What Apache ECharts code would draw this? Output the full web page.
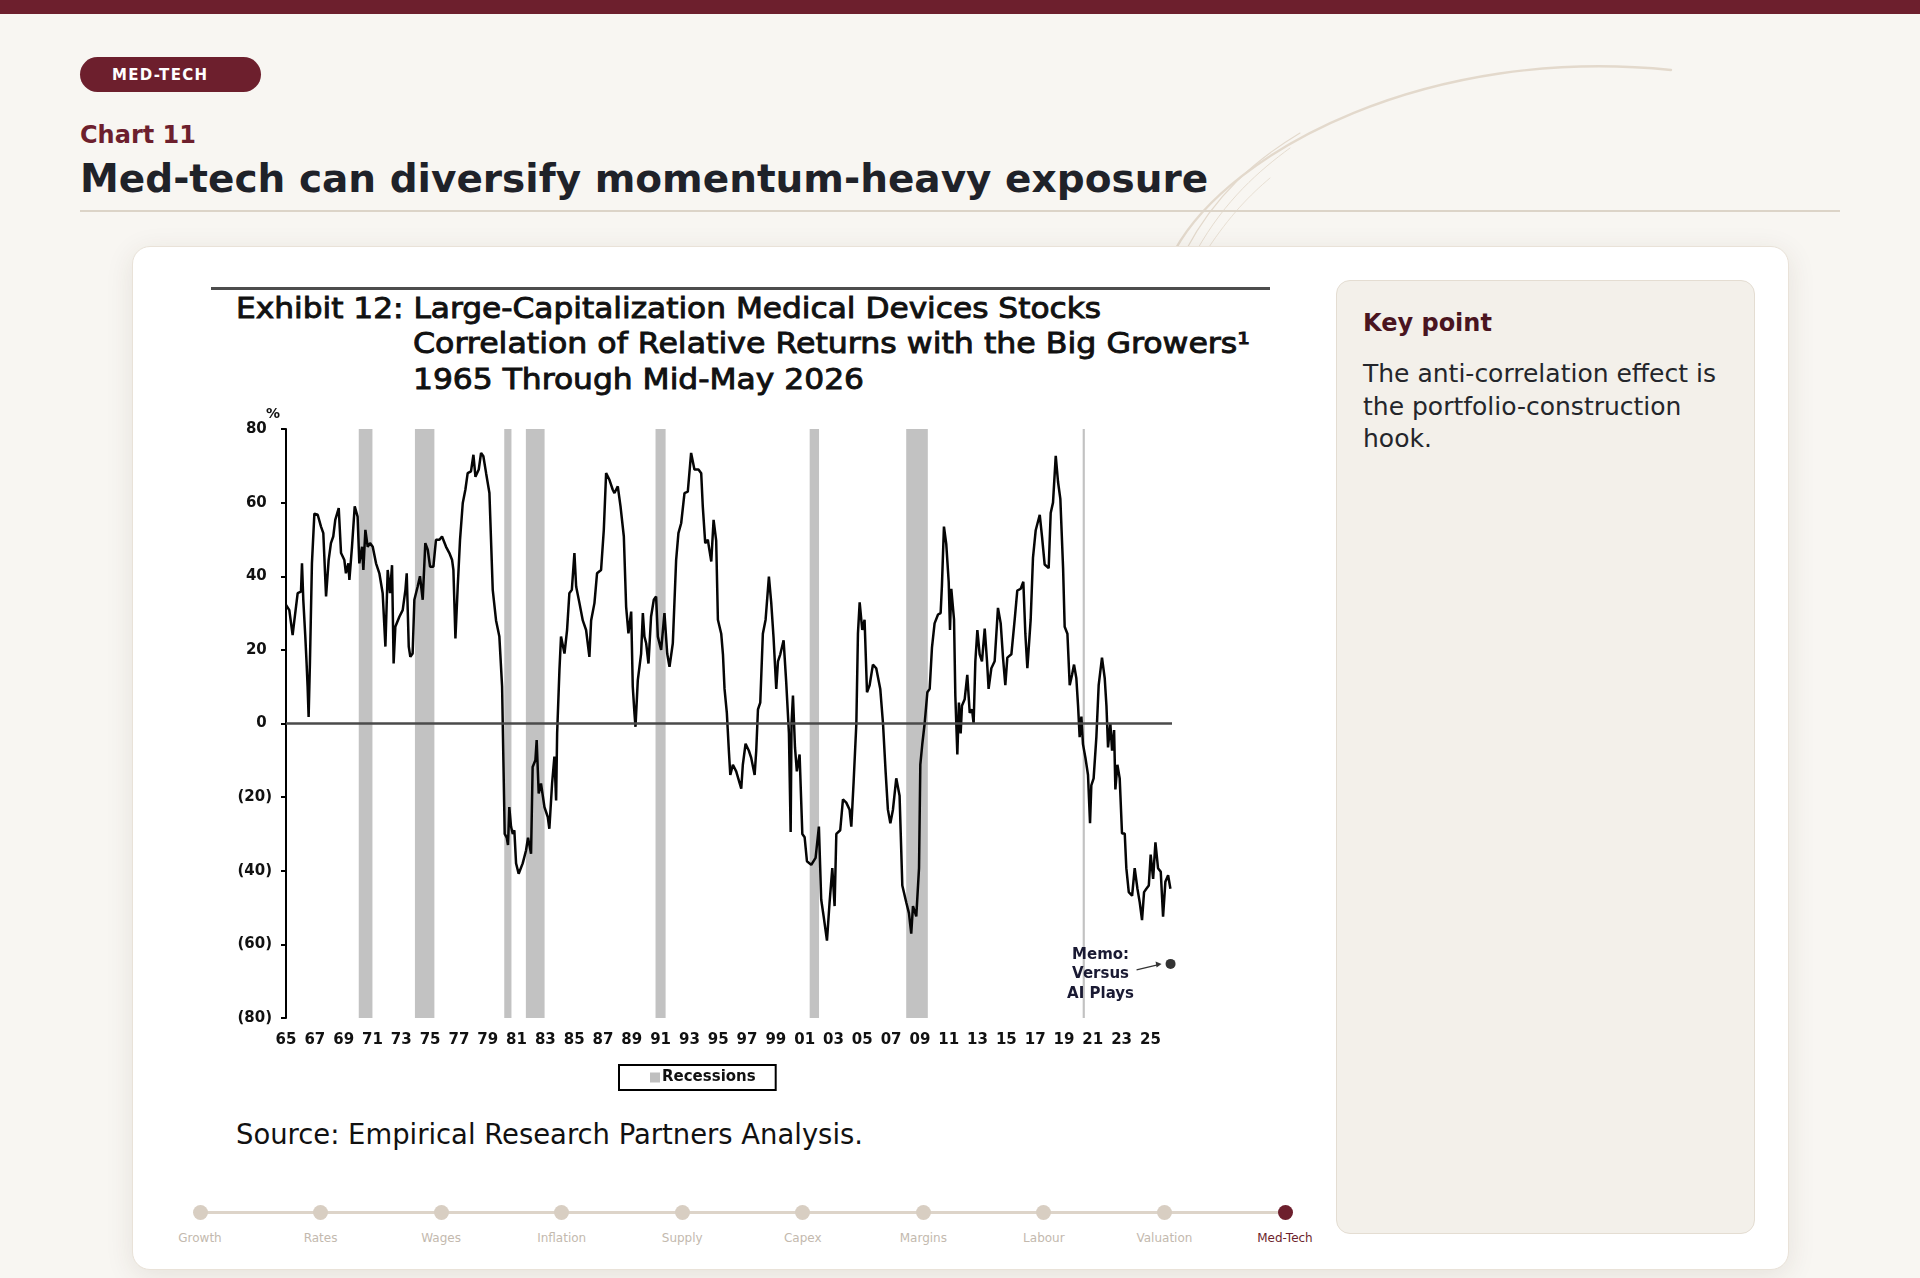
<!DOCTYPE html>
<html>
<head>
<meta charset="utf-8">
<script src="https://cdn.jsdelivr.net/npm/echarts@6/dist/echarts.min.js"></script>
<style>
  html, body { margin:0; padding:0; }
  body { width:1920px; height:1278px; background:#f8f6f2; position:relative; overflow:hidden; font-family:"DejaVu Sans", sans-serif; }
  .abs { position:absolute; }
  #topbar { left:0; top:0; width:1920px; height:14px; background:#6d1f2d; }
  #pill { left:80px; top:57px; width:181px; height:35px; border-radius:18px; background:#6d1f2d; color:#fff; font-weight:bold; font-size:15px; letter-spacing:1.3px; line-height:36px; box-sizing:border-box; padding-left:32px; }
  #chartno { left:80px; top:123px; font-size:24px; line-height:24px; font-weight:bold; color:#6d1f2d; white-space:nowrap; }
  #title { left:80px; top:159px; font-size:39px; line-height:39px; font-weight:bold; color:#1f2229; white-space:nowrap; }
  #divider { left:80px; top:210px; width:1760px; height:2px; background:#dcd4c8; }
  #card { left:132px; top:246px; width:1657px; height:1024px; background:#fff; border-radius:18px; border:1px solid #e9e2d8; box-sizing:border-box; box-shadow:0 6px 28px rgba(70,50,30,0.10); }
  #panel { left:1336px; top:280px; width:419px; height:954px; background:#f3f0ea; border:1px solid #e4ddd2; border-radius:14px; box-sizing:border-box; }
  #kp { left:1363px; top:307px; font-size:24px; line-height:32px; font-weight:bold; color:#4a151f; white-space:nowrap; }
  #kpbody { left:1363px; top:358px; width:372px; font-size:25px; line-height:32.7px; color:#24262b; }
  #exrule { left:211px; top:287px; width:1059px; height:3px; background:#4d4d4d; }
  .ex { font-size:28px; line-height:28px; color:#111; white-space:nowrap; transform-origin:0 50%; -webkit-text-stroke:0.9px #111; }
  #src { font-size:28px; line-height:28px; color:#111; white-space:nowrap; transform-origin:0 50%; left:236px; top:1121px; }
  #navline { left:200px; top:1211px; width:1085px; height:3px; background:#ddd4c9; }
  .dot { width:15px; height:15px; border-radius:50%; background:#d8cec2; top:1205px; }
  .dot.on { background:#6d1f2d; }
  .nl { top:1231px; font-size:12px; line-height:14px; color:#c3b9ae; white-space:nowrap; transform:translateX(-50%); }
  .nl.on { color:#6d1f2d; }
  #chart { left:0; top:0; width:1920px; height:1278px; z-index:5; }
</style>
</head>
<body>
<div id="topbar" class="abs"></div>
<svg class="abs" style="left:0;top:0;" width="1920" height="260">
  <g fill="none" stroke="#e3d9cc" stroke-linecap="round">
    <path d="M1175 250 C1230 150 1430 45 1671 70" stroke-width="2.4"/>
    <path d="M1186 250 C1215 195 1255 160 1300 133" stroke-width="1.1"/>
    <path d="M1197 250 C1225 200 1260 170 1290 148" stroke-width="0.9"/>
    <path d="M1207 250 C1230 215 1250 195 1270 178" stroke-width="0.8"/>
  </g>
</svg>
<div id="pill" class="abs">MED-TECH</div>
<div id="chartno" class="abs">Chart 11</div>
<div id="title" class="abs">Med-tech can diversify momentum-heavy exposure</div>
<div id="divider" class="abs"></div>
<div id="card" class="abs"></div>
<div id="panel" class="abs"></div>
<div id="kp" class="abs">Key point</div>
<div id="kpbody" class="abs">The anti-correlation effect is the portfolio-construction hook.</div>
<div id="exrule" class="abs"></div>
<div id="ex1" class="abs ex" style="left:236px;top:295px;" data-w="865">Exhibit 12: Large-Capitalization Medical Devices Stocks</div>
<div id="ex2" class="abs ex" style="left:413px;top:330px;" data-w="837">Correlation of Relative Returns with the Big Growers¹</div>
<div id="ex3" class="abs ex" style="left:413px;top:366px;" data-w="451">1965 Through Mid-May 2026</div>
<div id="src" class="abs" data-w="627">Source: Empirical Research Partners Analysis.</div>
<div id="navline" class="abs"></div>
<div id="nav"></div>
<div id="chart" class="abs"></div>
<script>
// ---- data: [decimal year, correlation %] ----
const seg1965_79 = [
[1965.00,32.2],[1965.23,30.8],[1965.46,24.0],[1965.58,28.0],[1965.81,35.4],[1966.04,35.8],[1966.11,43.5],[1966.20,33.6],[1966.34,23.6],[1966.43,16.3],[1966.50,10.0],[1966.57,1.8],[1966.66,16.3],[1966.80,43.5],[1966.97,57.0],[1967.20,56.7],[1967.43,53.5],[1967.59,51.7],[1967.78,34.5],[1967.96,44.4],[1968.12,49.0],[1968.28,50.8],[1968.42,55.3],[1968.66,58.5],[1968.82,46.3],[1969.05,44.4],[1969.16,40.8],[1969.33,43.5],[1969.40,39.0],[1969.58,48.0],[1969.77,59.0],[1969.97,56.2],[1970.09,43.5],[1970.28,48.0],[1970.37,41.7],[1970.51,52.6],[1970.67,48.0],[1970.83,49.0],[1971.02,48.0],[1971.25,43.5],[1971.48,40.8],[1971.71,35.4],[1971.90,20.9],[1972.06,41.7],[1972.22,35.4],[1972.36,43.0],[1972.47,16.3],[1972.59,26.3],[1972.87,29.0],[1973.10,30.8],[1973.29,36.3],[1973.38,40.8],[1973.52,20.9],[1973.63,18.1],[1973.79,19.0],[1973.91,33.6],[1974.14,37.2],[1974.30,40.0],[1974.49,33.6],[1974.67,49.0],[1974.84,47.2],[1975.00,42.6],[1975.23,42.6],[1975.41,49.9],[1975.65,49.9],[1975.83,50.8],[1976.11,48.0],[1976.34,46.3],[1976.53,44.4],[1976.62,41.7],[1976.76,23.1],[1976.92,37.2],[1977.08,49.9],[1977.27,59.9],[1977.45,63.5],[1977.61,68.0],[1977.84,68.5],[1978.01,73.0],[1978.15,67.0],[1978.38,69.0],[1978.54,73.5],[1978.70,72.6],[1978.89,68.0],[1979.12,62.6],[1979.35,36.3],[1979.58,28.0],[1979.81,23.6],[1980.00,10.0]
];
const seg1980_94 = [
[1980.09,-10.0],[1980.18,-30.0],[1980.32,-31.0],[1980.41,-33.0],[1980.50,-22.7],[1980.62,-28.0],[1980.74,-30.0],[1980.85,-29.0],[1980.97,-38.0],[1981.15,-40.8],[1981.43,-38.0],[1981.66,-34.5],[1981.80,-31.0],[1982.01,-35.4],[1982.12,-11.8],[1982.31,-10.0],[1982.40,-4.5],[1982.54,-19.0],[1982.70,-16.3],[1982.94,-22.7],[1983.17,-25.4],[1983.28,-28.6],[1983.47,-16.3],[1983.63,-9.0],[1983.75,-20.9],[1983.82,-2.7],[1983.98,14.5],[1984.09,23.6],[1984.33,19.0],[1984.51,25.4],[1984.67,35.4],[1984.84,36.3],[1985.02,46.3],[1985.14,37.2],[1985.37,32.7],[1985.60,28.0],[1985.83,25.4],[1986.06,18.1],[1986.18,28.0],[1986.41,32.7],[1986.59,40.8],[1986.87,41.7],[1987.06,52.6],[1987.22,68.0],[1987.45,66.2],[1987.68,63.5],[1987.80,62.6],[1988.03,64.4],[1988.22,59.0],[1988.45,50.8],[1988.61,31.7],[1988.77,24.5],[1988.96,30.4],[1989.07,10.0],[1989.19,2.7],[1989.26,-0.9],[1989.42,11.8],[1989.65,19.0],[1989.77,30.0],[1989.88,23.6],[1990.00,21.8],[1990.16,16.3],[1990.34,29.0],[1990.53,33.6],[1990.69,34.5],[1990.81,23.6],[1991.04,20.0],[1991.27,30.0],[1991.46,19.0],[1991.62,15.4],[1991.85,21.8],[1992.08,44.4],[1992.24,51.7],[1992.43,54.4],[1992.66,62.6],[1992.89,63.0],[1993.12,73.5],[1993.35,69.0],[1993.63,69.0],[1993.82,68.0],[1993.93,59.0],[1994.10,49.0],[1994.28,49.9]
];
const seg1994_09 = [
[1994.40,46.9],[1994.52,44.0],[1994.68,55.3],[1994.86,49.7],[1994.98,28.2],[1995.21,24.4],[1995.33,18.8],[1995.44,9.4],[1995.60,2.9],[1995.74,-7.4],[1995.84,-14.0],[1996.02,-11.2],[1996.25,-13.0],[1996.60,-17.7],[1996.71,-11.2],[1996.90,-5.5],[1997.13,-7.4],[1997.29,-9.3],[1997.53,-14.0],[1997.64,-7.4],[1997.76,3.8],[1997.92,5.7],[1998.10,24.4],[1998.29,28.2],[1998.52,39.9],[1998.68,32.9],[1998.84,23.5],[1999.03,9.4],[1999.15,16.9],[1999.31,18.8],[1999.54,22.6],[1999.72,11.3],[1999.91,-2.7],[2000.03,-29.5],[2000.09,0.0],[2000.19,7.6],[2000.33,-6.5],[2000.46,-13.0],[2000.65,-8.4],[2000.84,-30.0],[2001.00,-30.9],[2001.16,-37.4],[2001.46,-38.4],[2001.76,-36.5],[2001.99,-28.0],[2002.15,-47.8],[2002.32,-52.4],[2002.55,-59.0],[2002.73,-48.7],[2002.92,-39.3],[2003.08,-49.6],[2003.20,-30.0],[2003.47,-29.0],[2003.66,-20.6],[2003.89,-21.5],[2004.12,-23.4],[2004.24,-28.0],[2004.40,-15.9],[2004.59,0.0],[2004.70,24.4],[2004.82,32.9],[2005.00,25.4],[2005.16,28.2],[2005.33,8.5],[2005.51,10.4],[2005.74,16.0],[2005.97,15.0],[2006.25,9.4],[2006.44,0.0],[2006.62,-13.0],[2006.78,-23.4],[2006.95,-27.1],[2007.13,-23.4],[2007.36,-14.9],[2007.59,-19.6],[2007.78,-44.0],[2008.06,-48.7],[2008.24,-51.5],[2008.40,-57.1],[2008.52,-49.6],[2008.75,-52.4],[2008.94,-39.3],[2009.03,-11.2],[2009.17,-5.5],[2009.33,0.0]
];
const seg2009_26 = [
[2009.52,8.5],[2009.68,9.4],[2009.84,20.7],[2010.02,27.2],[2010.26,29.6],[2010.44,30.0],[2010.53,37.5],[2010.67,53.5],[2010.83,48.8],[2011.00,38.5],[2011.09,25.4],[2011.18,36.6],[2011.37,28.2],[2011.46,7.6],[2011.60,-8.4],[2011.71,5.7],[2011.83,-2.7],[2011.92,4.8],[2012.11,6.6],[2012.29,13.2],[2012.46,2.9],[2012.62,3.8],[2012.73,0.0],[2012.85,16.9],[2012.99,25.4],[2013.15,18.8],[2013.31,16.9],[2013.50,25.8],[2013.66,16.9],[2013.77,9.4],[2013.96,15.0],[2014.19,16.9],[2014.42,31.4],[2014.61,27.2],[2014.77,17.9],[2014.93,10.4],[2015.07,17.9],[2015.35,18.8],[2015.58,28.2],[2015.76,36.1],[2016.00,36.6],[2016.18,38.5],[2016.32,24.4],[2016.46,15.0],[2016.69,28.2],[2016.85,45.0],[2017.04,52.5],[2017.32,56.7],[2017.48,50.7],[2017.66,43.2],[2017.94,42.2],[2018.08,57.2],[2018.24,60.0],[2018.43,72.7],[2018.59,65.6],[2018.75,61.0],[2018.94,42.2],[2019.05,26.3],[2019.24,24.4],[2019.40,10.4],[2019.56,13.2],[2019.70,16.0],[2019.86,12.3],[2019.98,4.8],[2020.09,-3.7],[2020.21,1.9],[2020.32,-5.6],[2020.49,-9.3],[2020.67,-14.0],[2020.81,-27.1],[2020.90,-16.8],[2021.06,-14.9],[2021.25,-3.7],[2021.41,10.4],[2021.64,17.9],[2021.83,12.3],[2021.95,4.8],[2022.06,-6.5],[2022.22,0.0],[2022.34,-7.4],[2022.48,-1.8],[2022.57,-17.9],[2022.71,-11.2],[2022.87,-14.9],[2023.03,-29.9],[2023.22,-29.9],[2023.33,-39.3],[2023.50,-45.8],[2023.73,-46.8],[2023.91,-39.3],[2024.10,-44.9],[2024.26,-48.6],[2024.42,-53.4],[2024.56,-45.8],[2024.72,-44.9],[2024.89,-44.0],[2025.02,-35.6],[2025.19,-42.2],[2025.35,-32.3],[2025.53,-39.3],[2025.72,-40.3],[2025.88,-52.5],[2026.04,-43.0],[2026.23,-41.2],[2026.39,-44.9]
];
const memoPoint = [2026.4, -65.3];
const recessions = [[1970.05,1971.0],[1973.95,1975.3],[1980.15,1980.65],[1981.65,1982.95],[1990.65,1991.35],[2001.35,2002.0],[2008.05,2009.55],[2020.3,2020.45]];
const navLabels = ['Growth','Rates','Wages','Inflation','Supply','Capex','Margins','Labour','Valuation','Med-Tech'];

// nav
(function(){
  const nav = document.getElementById('nav');
  const x0 = 200, x1 = 1285;
  navLabels.forEach((t,i)=>{
    const x = x0 + (x1-x0)*i/(navLabels.length-1);
    const on = i === navLabels.length-1;
    const d = document.createElement('div');
    d.className = 'abs dot' + (on?' on':'');
    d.style.left = (x-7.5)+'px';
    nav.appendChild(d);
    const l = document.createElement('div');
    l.className = 'abs nl' + (on?' on':'');
    l.style.left = x+'px';
    l.textContent = t;
    nav.appendChild(l);
  });
  // fit exhibit text widths
  ['ex1','ex2','ex3','src'].forEach(id=>{
    const el = document.getElementById(id);
    const w = el.getBoundingClientRect().width;
    const target = +el.dataset.w;
    el.style.transform = 'scaleX(' + (target/w) + ')';
  });
})();

const lineData = seg1965_79.concat(seg1980_94, seg1994_09, seg2009_26);
const chart = echarts.init(document.getElementById('chart'), null, {renderer:'canvas'});
const axisFont = 'DejaVu Sans';
chart.setOption({
  animation:false,
  grid:{left:286, top:429, width:886, height:589, containLabel:false},
  legend:{
    show:true, left:619, top:1065, orient:'horizontal',
    data:[{name:'Recessions', icon:'rect'}],
    itemWidth:10, itemHeight:10, itemGap:0,
    borderColor:'#000', borderWidth:2, borderRadius:0,
    padding:[5,20,5,31],
    textStyle:{fontFamily:axisFont, fontSize:15, fontWeight:'bold', color:'#111', padding:[0,0,0,-3]}
  },
  xAxis:{
    type:'value', min:1965, max:2026.5, interval:2,
    axisLine:{show:false}, axisTick:{show:false}, splitLine:{show:false},
    axisLabel:{showMaxLabel:false, margin:15, fontFamily:axisFont, fontSize:15, fontWeight:'bold', color:'#111',
      formatter:v=>String(Math.round(v)%100).padStart(2,'0')}
  },
  yAxis:{
    type:'value', min:-80, max:80, interval:20,
    axisLine:{show:true, lineStyle:{color:'#000', width:2}},
    axisTick:{show:true, length:5, lineStyle:{color:'#000', width:2}},
    splitLine:{show:false},
    axisLabel:{margin:14, fontFamily:axisFont, fontSize:15, fontWeight:'bold', color:'#111',
      formatter:v=> v<0 ? '('+(-v)+')' : v+' '},
    name:'%', nameLocation:'end', nameGap:8,
    nameTextStyle:{fontFamily:axisFont, fontSize:14, fontWeight:'bold', color:'#111', align:'right', padding:[0,6,0,0]}
  },
  series:[
    {name:'Recessions', type:'bar', data:[], itemStyle:{color:'#bfbfbf'}},
    {name:'Correlation', type:'line', data:lineData, showSymbol:false, z:3,
      lineStyle:{color:'#050505', width:2.5}, itemStyle:{color:'#050505'},
      markArea:{silent:true, itemStyle:{color:'#c2c2c2', opacity:1},
        data:recessions.map(r=>[{xAxis:r[0]},{xAxis:r[1]}])},
      markLine:{silent:true, symbol:'none', label:{show:false},
        lineStyle:{color:'#4a4a4a', width:2.5, type:'solid'}, data:[{yAxis:0}]}
    },
    {name:'Memo', type:'scatter', data:[memoPoint], symbolSize:10, z:4, itemStyle:{color:'#000'}}
  ]
});
const p = chart.convertToPixel({seriesIndex:2}, memoPoint);
chart.setOption({
  graphic:[
    {type:'text', x:p[0]-70, y:p[1]-19, z:10,
      style:{text:'Memo:\nVersus\nAI Plays', textAlign:'center', fontFamily:axisFont, fontSize:15, fontWeight:'bold', lineHeight:19.5, fill:'#1a1a33'}},
    {type:'line', z:10, shape:{x1:p[0]-34, y1:p[1]+6, x2:p[0]-13, y2:p[1]+1}, style:{stroke:'#333', lineWidth:1.2}},
    {type:'polygon', z:10, shape:{points:[[p[0]-9,p[1]],[p[0]-15,p[1]-2.5],[p[0]-14,p[1]+3.5]]}, style:{fill:'#333'}}
  ]
});
</script>
</body>
</html>
